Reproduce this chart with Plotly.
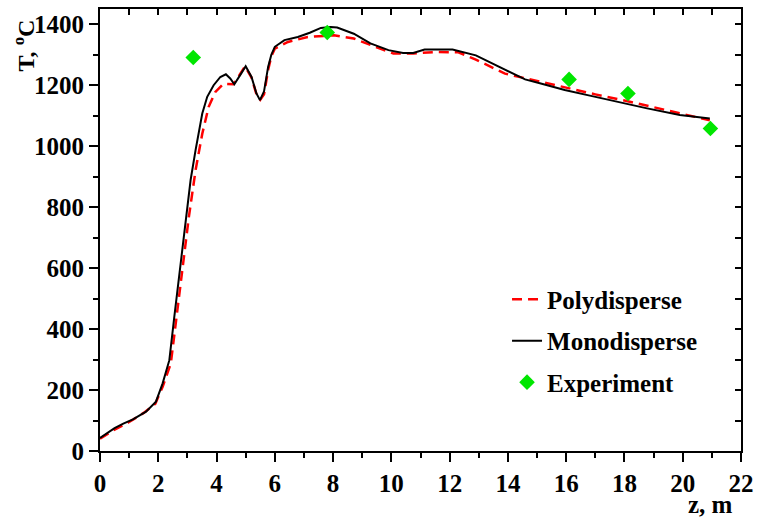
import plotly.graph_objects as go

# Monodisperse (black solid)
z_mono = [0, 0.25, 0.5, 0.8, 1.13, 1.58, 1.92, 2.15, 2.38, 2.55, 2.71, 2.8, 2.94, 3.11, 3.28,
          3.51, 3.68, 3.9, 4.13, 4.32, 4.47, 4.61, 4.81, 5.0, 5.2, 5.37, 5.49, 5.63, 5.77, 5.88,
          6.0, 6.33, 6.79, 7.2, 7.58, 7.92, 8.14, 8.71, 9.28, 9.9, 10.4, 10.75, 11.14, 12.1,
          12.9, 13.57, 14.0, 14.59, 15.16, 15.95, 16.85, 17.76, 18.78, 19.9, 20.93]
T_mono = [43, 58, 75, 90, 104, 129, 162, 222, 298, 440, 571, 650, 757, 889, 987,
          1107, 1162, 1200, 1227, 1236, 1222, 1203, 1233, 1262, 1227, 1173, 1151, 1180, 1260, 1300,
          1326, 1348, 1358, 1372, 1388, 1391, 1389, 1369, 1337, 1315, 1306, 1306, 1317, 1317,
          1298, 1266, 1248, 1219, 1205, 1184, 1165, 1145, 1124, 1102, 1091]

# Polydisperse (red dashed)
z_poly = [0, 0.5, 1.0, 1.5, 1.9, 2.15, 2.43, 2.6, 2.74, 2.88, 3.05, 3.28, 3.51, 3.73, 3.96,
          4.24, 4.58, 4.8, 4.98, 5.2, 5.37, 5.5, 5.63, 5.77, 5.88, 6.0, 6.45, 7.13, 8.03, 8.71,
          9.39, 10.07, 10.75, 11.54, 12.3, 12.9, 13.9, 15.04, 16.0, 17.0, 18.0, 19.0, 20.0, 20.93]
T_poly = [40, 70, 95, 125, 155, 211, 287, 419, 517, 637, 768, 921, 1041, 1129, 1178,
          1205, 1203, 1235, 1262, 1225, 1170, 1152, 1170, 1250, 1295, 1320, 1342, 1358, 1364, 1353,
          1329, 1304, 1304, 1309, 1308, 1284, 1238, 1213, 1190, 1170, 1150, 1128, 1105, 1085]

# Experiment (green diamonds)
z_exp = [3.2, 7.8, 16.1, 18.12, 20.95]
T_exp = [1291, 1373, 1219, 1173, 1058]

x_ticks = list(range(0, 23, 2))
y_ticks = list(range(0, 1401, 200))

FONT = "Times New Roman, Liberation Serif, serif"

fig = go.Figure()
fig.add_trace(go.Scatter(x=z_poly, y=T_poly, mode="lines", name="Polydisperse",
                         line=dict(color="#ff0000", width=2.5, dash="10px,6px"),
                         legendgroup="a"))
fig.add_trace(go.Scatter(x=z_mono, y=T_mono, mode="lines", name="Monodisperse",
                         line=dict(color="#000000", width=2), legendgroup="b"))
fig.add_trace(go.Scatter(x=z_exp, y=T_exp, mode="markers", name="Experiment",
                         marker=dict(symbol="diamond", size=12, color="#00e600"),
                         legendgroup="c"))
# dummy trace for mirrored axes (top/right, inward ticks)
fig.add_trace(go.Scatter(x=[None], y=[None], xaxis="x2", yaxis="y2", showlegend=False,
                         hoverinfo="skip"))

tickfont = dict(family=FONT, size=25, color="black", weight="bold")

fig.update_layout(
    width=763, height=519,
    margin=dict(l=100, r=15, t=9, b=68),
    plot_bgcolor="white", paper_bgcolor="white",
    showlegend=True,
    legend=dict(x=0.635, y=0.395, xanchor="left", yanchor="top",
                bgcolor="rgba(0,0,0,0)",
                font=dict(family=FONT, size=25, color="black", weight="bold"),
                tracegroupgap=6),
    xaxis=dict(range=[0, 22], tickvals=x_ticks, ticktext=[str(v) for v in x_ticks],
               ticks="outside", ticklen=9, tickwidth=2, tickcolor="black",
               minor=dict(dtick=1, ticks="outside", ticklen=5, tickwidth=2, tickcolor="black"),
               showline=True, linewidth=2, linecolor="black", showgrid=False, zeroline=False,
               tickfont=tickfont),
    yaxis=dict(range=[0, 1450], tickvals=y_ticks, ticktext=[str(v) for v in y_ticks],
               ticks="outside", ticklen=9, tickwidth=2, tickcolor="black",
               minor=dict(dtick=100, ticks="outside", ticklen=5, tickwidth=2, tickcolor="black"),
               showline=True, linewidth=2, linecolor="black", showgrid=False, zeroline=False,
               tickfont=tickfont),
    xaxis2=dict(range=[0, 22], overlaying="x", side="top", dtick=1, ticks="inside",
                ticklen=6, tickwidth=2, tickcolor="black", showticklabels=False,
                showline=True, linewidth=2, linecolor="black", showgrid=False, zeroline=False),
    yaxis2=dict(range=[0, 1450], overlaying="y", side="right", dtick=100, ticks="inside",
                ticklen=6, tickwidth=2, tickcolor="black", showticklabels=False,
                showline=True, linewidth=2, linecolor="black", showgrid=False, zeroline=False),
    annotations=[
        dict(text="T, <sup>o</sup>C", textangle=-90, xref="paper", yref="paper",
             x=-0.118, y=0.918, showarrow=False, xanchor="center", yanchor="middle",
             font=dict(family=FONT, size=24, color="black", weight="bold")),
        dict(text="z, m", xref="paper", yref="paper", x=0.952, y=-0.122,
             showarrow=False, xanchor="center", yanchor="middle",
             font=dict(family=FONT, size=25, color="black", weight="bold")),
    ],
)

fig.write_html("out.html")
